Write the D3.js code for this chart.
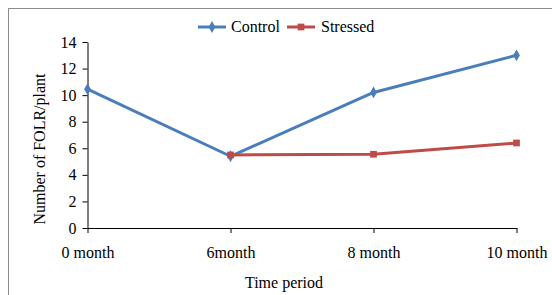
<!DOCTYPE html>
<html>
<head>
  <title>FOLR per plant</title>
  <script src="https://d3js.org/d3.v7.min.js"></script>
  <style>
    body { margin: 0; background: #fff; }
    svg text { font-family: "Liberation Serif", "DejaVu Serif", serif !important; fill: #000; }
  </style>
</head>
<body>
<div id="chart"></div>
<script>
const categories = ["0 month", "6month", "8 month", "10 month"];
const control = [10.45, 5.4, 10.2, 13.0];
const stressed = [null, 5.5, 5.55, 6.4];
const yTicks = [0, 2, 4, 6, 8, 10, 12, 14];

const width = 552, height = 295;
const plot = { left: 87.5, right: 516.5, top: 42, bottom: 228 };

const svg = d3.select("#chart").append("svg")
    .attr("width", width)
    .attr("height", height);

// outer frame
svg.append("rect")
    .attr("x", 8.5).attr("y", 8.5)
    .attr("width", 560).attr("height", 300)
    .attr("fill", "none")
    .attr("stroke", "#8c8c8c");

const x = d3.scalePoint()
    .domain(categories)
    .range([plot.left, plot.right])
    .padding(0);

const y = d3.scaleLinear()
    .domain([0, 14])
    .range([plot.bottom, plot.top]);

// y axis
const yAxis = svg.append("g")
    .attr("transform", `translate(${plot.left},0)`)
    .attr("font-family", null)
    .call(d3.axisLeft(y).tickValues(yTicks).tickSize(5).tickPadding(6).tickSizeOuter(0));
yAxis.attr("font-family", "Liberation Serif");
yAxis.select(".domain").attr("stroke", "#000");
yAxis.selectAll(".tick line").attr("stroke", "#000");
yAxis.selectAll("text").attr("font-size", 16);

// x axis
const xAxis = svg.append("g")
    .attr("transform", `translate(0,${plot.bottom})`)
    .call(d3.axisBottom(x).tickSize(5).tickPadding(14).tickSizeOuter(0));
xAxis.attr("font-family", "Liberation Serif");
xAxis.select(".domain").attr("stroke", "#000");
xAxis.selectAll(".tick line").attr("stroke", "#000");
xAxis.selectAll("text").attr("font-size", 16);

// axis titles
svg.append("text")
    .attr("transform", "translate(45,149) rotate(-90)")
    .attr("text-anchor", "middle")
    .attr("font-size", 16)
    .text("Number of FOLR/plant");

svg.append("text")
    .attr("x", 284).attr("y", 288)
    .attr("text-anchor", "middle")
    .attr("font-size", 16)
    .text("Time period");

const series = [
  { name: "Control", values: control, color: "#4a7ebb", marker: d3.symbolDiamond, size: 40 },
  { name: "Stressed", values: stressed, color: "#be4b48", marker: d3.symbolSquare, size: 45 }
];

const line = d3.line()
    .defined(d => d.v != null)
    .x(d => x(d.c))
    .y(d => y(d.v));

series.forEach(s => {
  const pts = categories.map((c, i) => ({ c: c, v: s.values[i] }));
  svg.append("path")
      .datum(pts)
      .attr("fill", "none")
      .attr("stroke", s.color)
      .attr("stroke-width", 3)
      .attr("stroke-linejoin", "round")
      .attr("d", line);
  svg.selectAll(null)
      .data(pts.filter(d => d.v != null))
      .enter().append("path")
      .attr("transform", d => `translate(${x(d.c)},${y(d.v)})`)
      .attr("d", d3.symbol().type(s.marker).size(s.size))
      .attr("fill", s.color);
});

// legend
const legend = [
  { s: series[0], x: 198, tx: 231 },
  { s: series[1], x: 287, tx: 321 }
];
legend.forEach(l => {
  const g = svg.append("g").attr("transform", `translate(${l.x},27)`);
  g.append("line")
      .attr("x1", 0).attr("x2", 28)
      .attr("stroke", l.s.color).attr("stroke-width", 3);
  g.append("path")
      .attr("transform", "translate(14,0)")
      .attr("d", d3.symbol().type(l.s.marker).size(l.s.size))
      .attr("fill", l.s.color);
  svg.append("text")
      .attr("x", l.tx).attr("y", 32)
      .attr("font-size", 16)
      .text(l.s.name);
});
</script>
</body>
</html>
